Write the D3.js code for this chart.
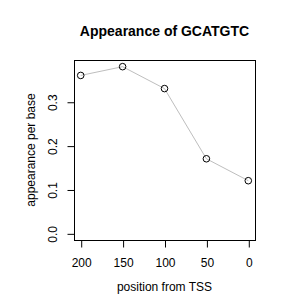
<!DOCTYPE html>
<html>
<head>
<meta charset="utf-8">
<script src="https://d3js.org/d3.v7.min.js"></script>
<style>
  body { margin: 0; background: white; }
  text { font-family: "Liberation Sans", Arial, sans-serif; }
</style>
</head>
<body>
<div id="chart"></div>
<script>
const positions = [200, 150, 100, 50, 0];
const appearance = [0.36, 0.38, 0.33, 0.17, 0.12];
const xTicks = [200, 150, 100, 50, 0];
const yTicks = [0.0, 0.1, 0.2, 0.3];

const wSvg = 300, hSvg = 300;
const plotLeft = 74, plotRight = 255, plotTop = 60, plotBottom = 240;

const svg = d3.select("#chart").append("svg")
    .attr("width", wSvg)
    .attr("height", hSvg)
    .style("background-color", "white");

// R style 4% padding on both axes
const xPad = (200 - 0) * 0.04;
const yPad = (0.38 - 0) * 0.04;
const x = d3.scaleLinear([200 + xPad, 0 - xPad], [plotLeft, plotRight]);
const y = d3.scaleLinear([0 - yPad, 0.38 + yPad], [plotBottom, plotTop]);

svg.append("rect")
    .attr("x", plotLeft + 0.5)
    .attr("y", plotTop + 0.5)
    .attr("width", plotRight - plotLeft)
    .attr("height", plotBottom - plotTop)
    .attr("fill", "none")
    .attr("stroke", "black");

let xAxis = d3.axisBottom(x).tickValues(xTicks).tickSize(7).tickPadding(11).tickFormat(d3.format("d"));
let gx = svg.append("g")
    .attr("transform", `translate(0.5, ${plotBottom + 0.5})`)
    .call(xAxis);
gx.select(".domain").attr("d", `M${x(200)},0H${x(0)}`);
gx.selectAll("text").attr("font-size", 12).attr("font-family", "Liberation Sans, Arial, sans-serif").attr("fill", "black");

let yAxis = d3.axisLeft(y).tickValues(yTicks).tickSize(7).tickPadding(0).tickFormat(d3.format(".1f"));
let gy = svg.append("g")
    .attr("transform", `translate(${plotLeft + 0.5}, 0.5)`)
    .call(yAxis);
gy.select(".domain").attr("d", `M0,${y(0)}V${y(0.3)}`);
gy.selectAll("text")
    .attr("font-size", 12)
    .attr("font-family", "Liberation Sans, Arial, sans-serif")
    .attr("fill", "black")
    .attr("text-anchor", "middle")
    .attr("dy", null)
    .attr("x", null)
    .attr("transform", "translate(-22,0) rotate(-90)")
    .attr("dominant-baseline", "central");

let line = d3.line()
    .x((d, i) => x(positions[i]))
    .y(d => y(d));

svg.append("path")
    .datum(appearance)
    .attr("d", line)
    .attr("fill", "none")
    .attr("stroke", "#bebebe")
    .attr("stroke-width", 1);

svg.selectAll("circle")
    .data(appearance)
    .enter()
    .append("circle")
    .attr("cx", (d, i) => x(positions[i]))
    .attr("cy", d => y(d))
    .attr("r", 3.3)
    .attr("fill", "none")
    .attr("stroke", "black")
    .attr("stroke-width", 1);

svg.append("text")
    .attr("x", (plotLeft + plotRight) / 2)
    .attr("y", 36)
    .attr("text-anchor", "middle")
    .attr("font-size", 14)
    .attr("font-weight", "bold")
    .text("Appearance of GCATGTC");

svg.append("text")
    .attr("x", (plotLeft + plotRight) / 2)
    .attr("y", 291)
    .attr("text-anchor", "middle")
    .attr("font-size", 12)
    .text("position from TSS");

svg.append("text")
    .attr("transform", `translate(35, ${(plotTop + plotBottom) / 2}) rotate(-90)`)
    .attr("text-anchor", "middle")
    .attr("font-size", 12)
    .text("appearance per base");
</script>
</body>
</html>
